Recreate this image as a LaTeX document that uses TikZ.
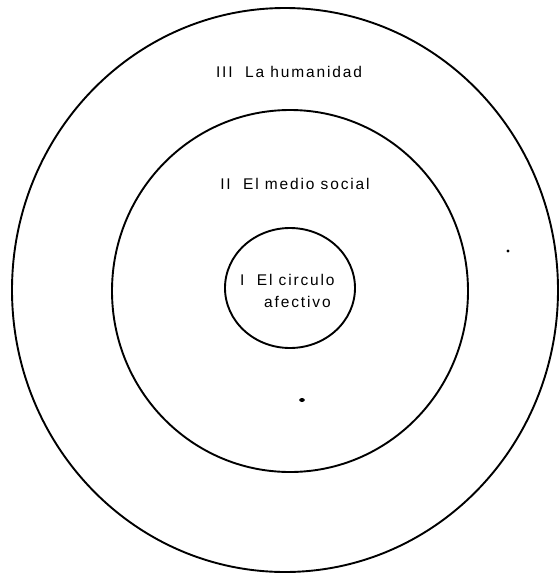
\documentclass[tikz,border=0pt]{standalone}
\usepackage{fontspec}
\newfontfamily\labfont[LetterSpace=12]{Liberation Sans}
\begin{document}
\begin{tikzpicture}[x=1pt,y=-1pt,
  ring/.style={draw=black,line width=1.9pt},
  lab/.style={font=\labfont\fontsize{15.5}{18}\selectfont,inner sep=0pt,anchor=center},
  speck/.style={fill=black}]
\useasboundingbox (0,0) rectangle (560,574);
\draw[ring] (285,290) ellipse [x radius=273, y radius=282];
\draw[ring] (290,291) ellipse [x radius=178, y radius=181];
\draw[ring] (290,288) ellipse [x radius=65, y radius=60];
\node[lab] (t3) at (289,72) {III\ \ La humanidad};
\node[lab] (t2) at (295,184) {II\ \ El medio social};
\node[lab,anchor=west] (t1a) at (240,280) {I\ \ El circulo};
\node[lab,anchor=west] (t1b) at (264,302) {afectivo};
\fill[speck] (508,251) circle [radius=1.6];
\fill[speck] (302,400) ellipse [x radius=2.8, y radius=2];
\end{tikzpicture}
\end{document}
